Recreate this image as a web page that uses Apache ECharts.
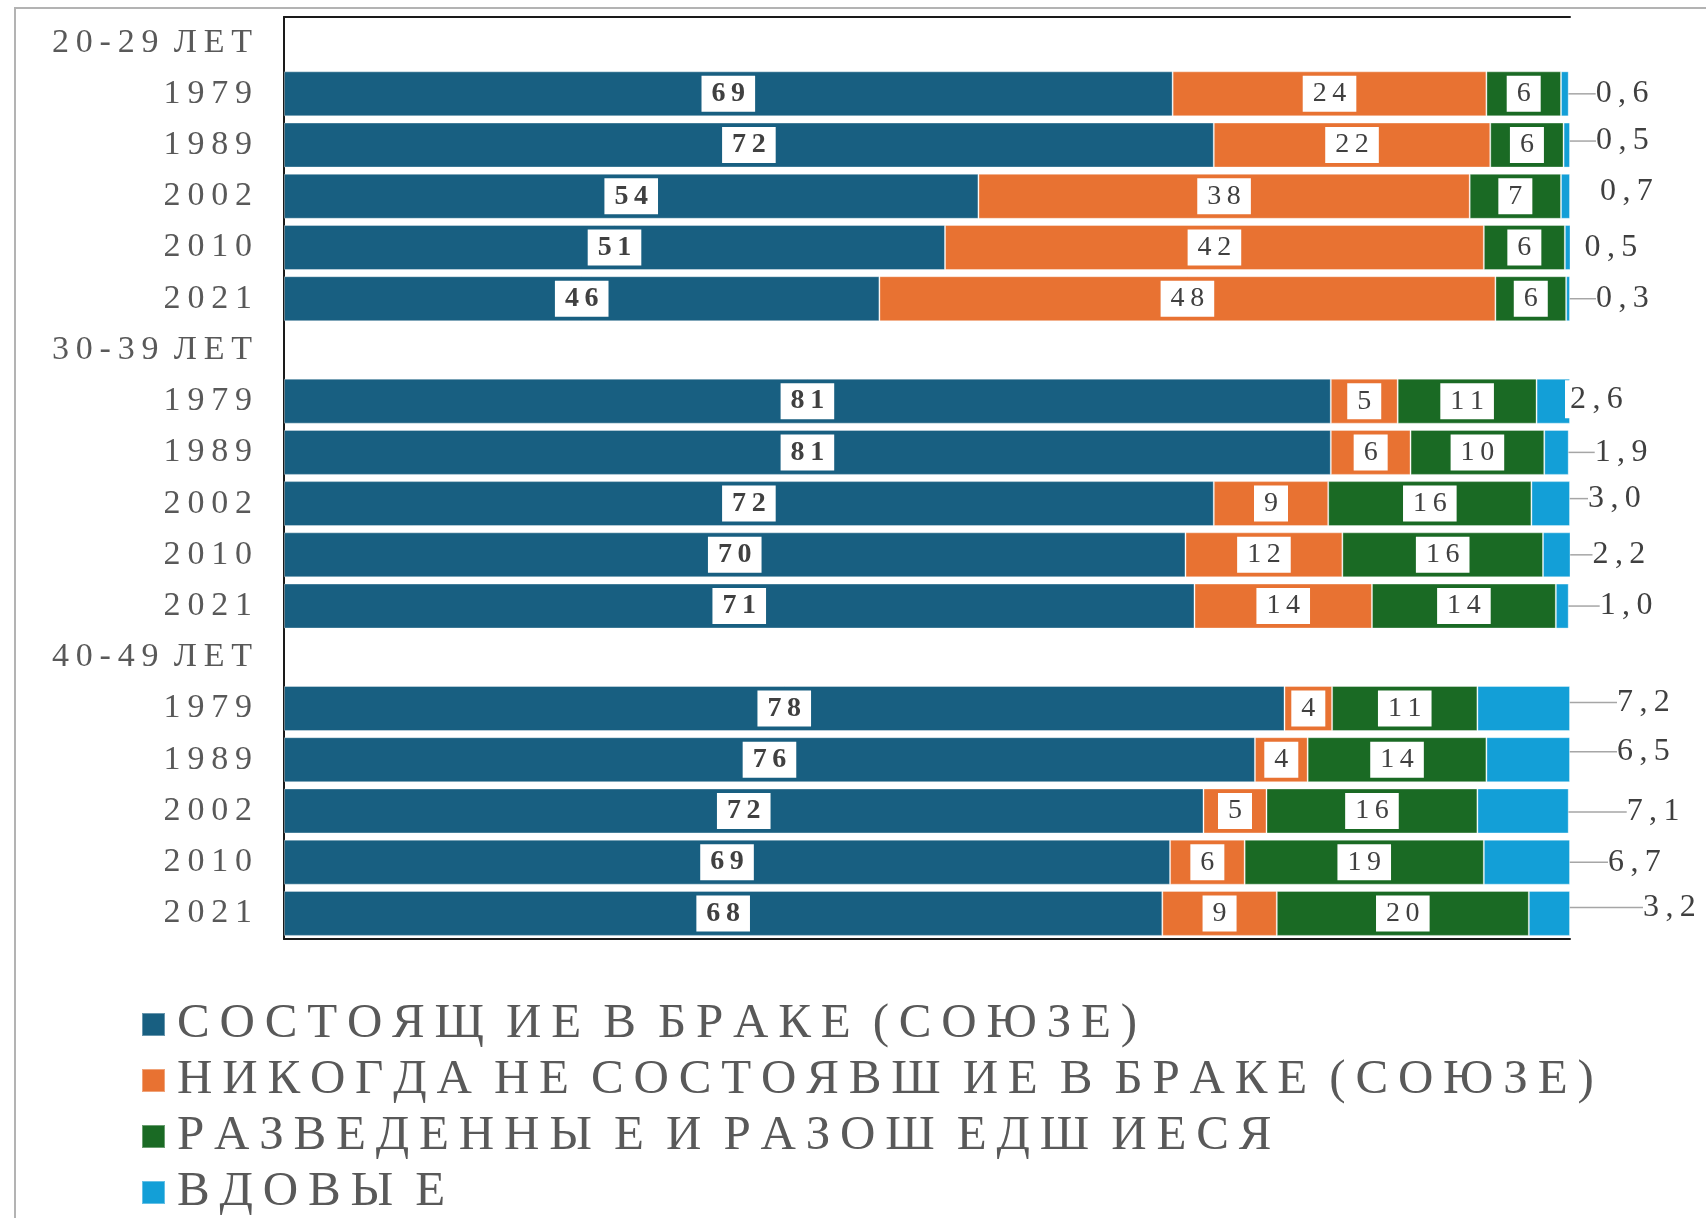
<!DOCTYPE html>
<html>
<head>
    <meta charset="utf-8">
    <title>Брачное состояние</title>
    <style>
        html, body { margin: 0; padding: 0; background: #fff; }
        #chart { width: 1706px; height: 1218px; }
    </style>
</head>
<body>
<div id="chart"></div>
<script src="https://cdn.jsdelivr.net/npm/echarts@6/dist/echarts.min.js"></script>
<script>
    // категории оси Y (группы возраста и годы переписи)
    var categories = ['20-29 ЛЕТ', '1979', '1989', '2002', '2010', '2021',
        '30-39 ЛЕТ', '1979', '1989', '2002', '2010', '2021',
        '40-49 ЛЕТ', '1979', '1989', '2002', '2010', '2021'];
    var seriesNames = ['СОСТОЯЩ ИЕ В БРАКЕ (СОЮЗЕ)', 'НИКОГДА НЕ СОСТОЯВШ ИЕ В БРАКЕ (СОЮЗЕ)',
        'РАЗВЕДЕННЫ Е И РАЗОШ ЕДШ ИЕСЯ', 'ВДОВЫ Е'];
    // доли, %
    var married = ['-', 69.1, 72.3, 54.0, 51.4, 46.3, '-', 81.4, 81.4, 72.3, 70.1, 70.8, '-', 77.8, 75.5, 71.5, 68.9, 68.3];
    var neverMarried = ['-', 24.4, 21.5, 38.2, 41.9, 47.9, '-', 5.2, 6.2, 8.9, 12.2, 13.8, '-', 3.7, 4.1, 4.9, 5.8, 8.9];
    var divorced = ['-', 5.8, 5.7, 7.1, 6.3, 5.5, '-', 10.8, 10.4, 15.8, 15.6, 14.3, '-', 11.3, 13.9, 16.4, 18.6, 19.6];
    var widowed = ['-', 0.6, 0.5, 0.7, 0.5, 0.3, '-', 2.6, 1.9, 3.0, 2.2, 1.0, '-', 7.2, 6.5, 7.1, 6.7, 3.2];

    // сдвиги подписей вдовых (dx от конца столбца, dy), как в исходнике
    var widowDx = [0, 27, 26, 30, 14, 26, 0, -5, 26, 18, 22, 31, 0, 47, 47, 58, 38, 73];
    var widowDy = [0, 0, -4, -5, 0, 0, 0, -2, 0, -5, 0, 0, 0, -6, -8, 1, 0, -6];
    var widowNoLine = [3, 4, 7];

    var colors = ['#185F81', '#E87232', '#1A6A24', '#139FD7'];
    var serif = '"Liberation Serif", "DejaVu Serif", serif';
    var THIN = '\u2009';

    // разрядка букв внутри слов; между словами пробел + один промежуток
    function spaced(s, gap) {
        gap = gap || THIN;
        return String(s).split(' ').map(function (w) {
            return w.split('').join(gap);
        }).join(' ' + gap);
    }

    var myChart = echarts.init(document.getElementById('chart'));

    function insideLabel(bold) {
        return {
            show: true,
            position: 'inside',
            color: '#404040',
            fontFamily: serif,
            fontSize: 28,
            fontWeight: bold ? 'bold' : 'normal',
            backgroundColor: '#fff',
            padding: [5, 10, 3, 10],
            formatter: function (p) {
                return spaced(Math.round(p.value));
            }
        };
    }

    function barSeries(name, data, idx) {
        return {
            name: name,
            type: 'bar',
            stack: 'all',
            barWidth: 45,
            data: data,
            itemStyle: {color: colors[idx], borderColor: 'rgba(255,255,255,0.35)', borderWidth: 1},
            label: insideLabel(idx === 0)
        };
    }

    var widowData = widowed.map(function (v, i) {
        if (v === '-') return v;
        var item = {value: v};
        if (widowNoLine.indexOf(i) >= 0) item.labelLine = {show: false};
        if (i === 7) item.label = {backgroundColor: '#fff', padding: [4, 5, 2, 5]};
        return item;
    });

    var option = {
        animation: false,
        color: colors,
        graphic: [{
            type: 'rect',
            shape: {x: 15, y: 8, width: 1800, height: 1400},
            style: {fill: 'none', stroke: '#B3B3B3', lineWidth: 2},
            silent: true
        }],
        legend: {
            orient: 'vertical',
            left: 141,
            top: 1000,
            height: 320,
            padding: 0,
            itemWidth: 23,
            itemHeight: 23,
            itemGap: 7,
            icon: 'rect',
            data: seriesNames,
            formatter: function (name) { return spaced(name); },
            textStyle: {
                fontFamily: serif,
                fontSize: 49,
                lineHeight: 49,
                color: '#595959',
                padding: [0, 0, 0, 7]
            }
        },
        grid: {left: 284, right: 136, top: 17, bottom: 279, containLabel: false},
        xAxis: [
            {
                type: 'value', min: 0, max: 100, position: 'bottom',
                axisLine: {show: true, lineStyle: {color: '#1a1a1a', width: 2}},
                axisTick: {show: false}, axisLabel: {show: false}, splitLine: {show: false}
            },
            {
                type: 'value', min: 0, max: 100, position: 'top',
                axisLine: {show: true, lineStyle: {color: '#1a1a1a', width: 2}},
                axisTick: {show: false}, axisLabel: {show: false}, splitLine: {show: false}
            }
        ],
        yAxis: [
            {
                type: 'category',
                inverse: true,
                data: categories,
                position: 'left',
                axisLine: {show: true, lineStyle: {color: '#BFBFBF', width: 2}},
                axisTick: {show: false},
                axisLabel: {
                    margin: 32,
                    color: '#595959',
                    fontFamily: serif,
                    fontSize: 34,
                    formatter: function (v) { return spaced(v); }
                }
            },
            {
                type: 'category',
                inverse: true,
                data: categories,
                position: 'right',
                axisLine: {show: true, lineStyle: {color: '#1a1a1a', width: 2}},
                axisTick: {show: false},
                axisLabel: {show: false}
            }
        ],
        series: [
            barSeries(seriesNames[0], married, 0),
            barSeries(seriesNames[1], neverMarried, 1),
            barSeries(seriesNames[2], divorced, 2),
            {
                name: seriesNames[3],
                type: 'bar',
                stack: 'all',
                barWidth: 45,
                data: widowData,
                itemStyle: {color: colors[3], borderColor: 'rgba(255,255,255,0.35)', borderWidth: 1},
                label: {
                    show: true,
                    position: 'right',
                    color: '#404040',
                    fontFamily: serif,
                    fontSize: 32,
                    formatter: function (p) {
                        return spaced(p.value.toFixed(1).replace('.', ','));
                    }
                },
                labelLine: {show: true, lineStyle: {color: '#A6A6A6', width: 1.5}},
                labelLayout: function (params) {
                    var i = params.dataIndex;
                    var r = params.rect;
                    return {
                        x: r.x + r.width + widowDx[i],
                        y: r.y + r.height / 2 + widowDy[i],
                        align: 'left',
                        verticalAlign: 'middle'
                    };
                }
            }
        ]
    };
    myChart.setOption(option);
</script>
</body>
</html>
